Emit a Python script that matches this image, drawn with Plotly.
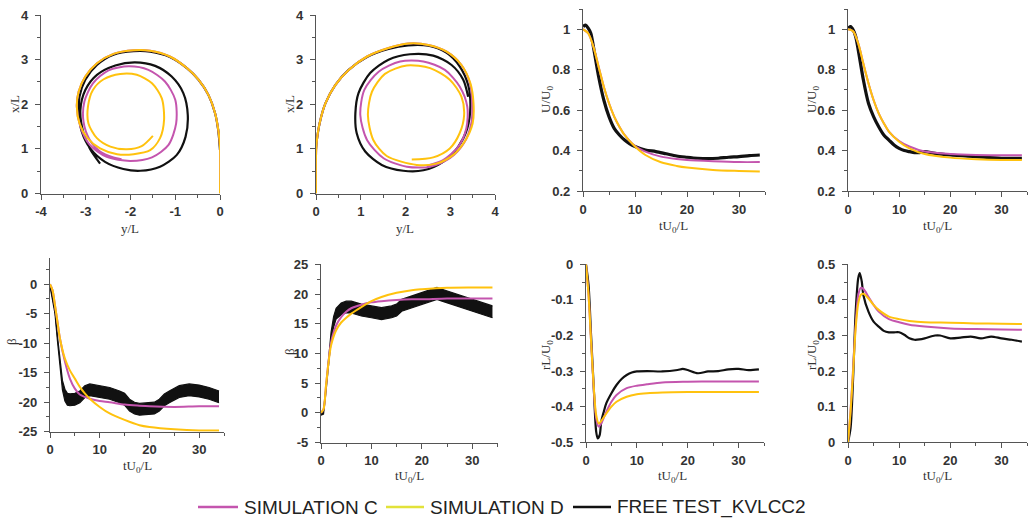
import plotly.graph_objects as go

# ---------------- colours ----------------
C_MAG = "#C455AE"
C_YEL = "#FFC20E"
C_BLK = "#111111"
C_LEG_YEL = "#E2E23A"

# ---------------- trajectory panel 1 (y/L, x/L) ----------------
p1_simD_y = [0, 0, -0.037, -0.11, -0.26, -0.48, -0.74, -1.12, -1.56, -1.93, -2.38, -2.75, -3.01, -3.16, -3.20, -3.14, -2.96, -2.68, -2.30, -1.93, -1.56, -1.34, -1.25, -1.30, -1.52, -1.86, -2.23, -2.60, -2.84, -2.95, -2.94, -2.75, -2.45, -2.08, -1.75, -1.50]
p1_simD_x = [0, 1.05, 1.42, 1.80, 2.21, 2.55, 2.81, 3.07, 3.20, 3.21, 3.13, 2.92, 2.62, 2.28, 1.95, 1.57, 1.24, 1.01, 0.88, 0.88, 0.97, 1.24, 1.65, 2.13, 2.47, 2.66, 2.68, 2.56, 2.32, 1.95, 1.57, 1.24, 1.05, 0.99, 1.06, 1.29]
p1_simC_y = [0, 0, -0.037, -0.11, -0.26, -0.48, -0.74, -1.12, -1.56, -1.93, -2.38, -2.75, -3.01, -3.16, -3.20, -3.12, -2.91, -2.53, -2.01, -1.52, -1.15, -0.98, -1.00, -1.23, -1.60, -2.04, -2.49, -2.84, -3.03, -3.05, -2.91, -2.68, -2.38, -2.20]
p1_simC_x = [0, 1.05, 1.42, 1.80, 2.21, 2.55, 2.81, 3.07, 3.20, 3.21, 3.13, 2.92, 2.62, 2.28, 1.95, 1.50, 1.09, 0.82, 0.73, 0.81, 1.09, 1.57, 2.10, 2.51, 2.77, 2.85, 2.76, 2.47, 2.06, 1.61, 1.20, 0.94, 0.81, 0.77]
p1_test_y = [0, -0.04, -0.11, -0.26, -0.48, -0.74, -1.12, -1.56, -1.93, -2.38, -2.75, -3.01, -3.14, -3.15, -3.09, -2.90, -2.57, -2.16, -1.78, -1.34, -0.97, -0.77, -0.72, -0.82, -1.08, -1.45, -1.90, -2.34, -2.75, -3.01, -3.12, -3.06, -2.91, -2.68]
p1_test_x = [0.97, 1.42, 1.80, 2.21, 2.55, 2.81, 3.06, 3.18, 3.19, 3.11, 2.88, 2.55, 2.17, 1.80, 1.39, 1.01, 0.71, 0.55, 0.51, 0.60, 0.86, 1.27, 1.76, 2.25, 2.62, 2.86, 2.94, 2.87, 2.66, 2.32, 1.87, 1.39, 1.01, 0.67]

# ---------------- trajectory panel 2 ----------------
p2_simD_y = [0, 0, 0.02, 0.08, 0.21, 0.43, 0.73, 1.14, 1.62, 2.06, 2.51, 2.92, 3.25, 3.45, 3.52, 3.50, 3.32, 3.06, 2.69, 2.25, 1.58, 1.28, 1.16, 1.25, 1.54, 2.03, 2.55, 2.99, 3.25, 3.31, 3.21, 2.99, 2.62, 2.14]
p2_simD_x = [0, 0.82, 1.20, 1.57, 2.02, 2.43, 2.77, 3.07, 3.26, 3.36, 3.33, 3.18, 2.88, 2.47, 2.02, 1.57, 1.16, 0.86, 0.67, 0.64, 0.84, 1.20, 1.76, 2.28, 2.68, 2.87, 2.81, 2.55, 2.17, 1.76, 1.35, 1.01, 0.81, 0.76]
p2_simC_y = [0, 0, 0.02, 0.08, 0.21, 0.43, 0.73, 1.14, 1.62, 2.06, 2.51, 2.92, 3.25, 3.44, 3.49, 3.47, 3.30, 2.99, 2.55, 2.03, 1.51, 1.14, 0.99, 1.08, 1.40, 1.88, 2.40, 2.88, 3.21, 3.38, 3.36, 3.18, 2.84, 2.47]
p2_simC_x = [0, 0.82, 1.20, 1.57, 2.02, 2.43, 2.77, 3.07, 3.26, 3.36, 3.33, 3.18, 2.88, 2.47, 2.02, 1.57, 1.12, 0.79, 0.60, 0.60, 0.79, 1.20, 1.76, 2.32, 2.73, 2.96, 2.96, 2.77, 2.40, 1.95, 1.46, 1.05, 0.75, 0.62]
p2_test_y = [0, 0.02, 0.08, 0.21, 0.43, 0.73, 1.14, 1.62, 2.06, 2.51, 2.92, 3.21, 3.40, 3.45, 3.38, 3.18, 2.84, 2.40, 1.95, 1.47, 1.10, 0.91, 0.88, 0.95, 1.21, 1.62, 2.10, 2.62, 3.03, 3.29, 3.40]
p2_test_x = [1.0, 1.20, 1.57, 2.02, 2.43, 2.77, 3.06, 3.24, 3.32, 3.31, 3.15, 2.85, 2.43, 1.95, 1.46, 1.05, 0.71, 0.52, 0.51, 0.64, 0.94, 1.35, 1.80, 2.25, 2.70, 3.00, 3.12, 3.09, 2.88, 2.55, 2.17]

# ---------------- U/U0 panel 3 ----------------
p3_t_sim = [0, 1, 2, 3, 4, 5, 6, 7, 8, 10, 12, 15, 18, 20, 25, 30, 34]
p3_simD = [1.0, 0.98, 0.914, 0.815, 0.716, 0.634, 0.568, 0.518, 0.477, 0.42, 0.378, 0.342, 0.324, 0.316, 0.304, 0.299, 0.296]
p3_simC = [1.0, 0.98, 0.914, 0.815, 0.716, 0.634, 0.568, 0.518, 0.477, 0.422, 0.395, 0.37, 0.358, 0.353, 0.347, 0.343, 0.343]
p3_t_test = [0, 0.5, 1, 1.5, 2, 3, 4, 5, 6, 7, 8, 9, 10, 12, 14, 16, 18, 20, 22, 24, 26, 28, 30, 32, 34]
p3_test = [1.013, 1.02, 1.005, 0.98, 0.914, 0.766, 0.65, 0.568, 0.51, 0.477, 0.452, 0.433, 0.42, 0.403, 0.395, 0.384, 0.373, 0.367, 0.362, 0.36, 0.362, 0.367, 0.37, 0.375, 0.378]

# ---------------- U/U0 panel 4 ----------------
p4_t_sim = [0, 1, 2, 3, 4, 5, 6, 7, 8, 10, 12, 15, 20, 25, 30, 34]
p4_simD = [1.0, 0.99, 0.93, 0.83, 0.733, 0.65, 0.584, 0.535, 0.494, 0.444, 0.411, 0.383, 0.365, 0.357, 0.353, 0.353]
p4_simC = [1.0, 0.99, 0.93, 0.83, 0.733, 0.65, 0.584, 0.535, 0.494, 0.447, 0.42, 0.395, 0.383, 0.378, 0.377, 0.377]
p4_t_test = [0, 0.5, 1, 1.5, 2, 3, 4, 5, 6, 7, 8, 9, 10, 11, 12, 13, 14, 15, 17, 20, 25, 30, 34]
p4_test = [1.005, 1.013, 0.997, 0.964, 0.898, 0.75, 0.634, 0.568, 0.518, 0.477, 0.452, 0.428, 0.411, 0.40, 0.395, 0.39, 0.39, 0.395, 0.386, 0.378, 0.37, 0.362, 0.362]

# ---------------- beta panel 5 ----------------
p5_t_sim = [0, 0.5, 1, 1.5, 2, 3, 4, 5, 6, 7, 8, 10, 12, 15, 18, 20, 25, 30, 34]
p5_simD = [0, -1.0, -3.55, -6.4, -9.2, -12.6, -14.6, -16.0, -17.4, -18.5, -19.4, -20.8, -21.9, -23.0, -23.9, -24.2, -24.6, -24.8, -24.8]
p5_simC = [0, -1.0, -3.6, -6.4, -9.2, -13.1, -16.0, -17.7, -18.7, -19.1, -19.4, -19.8, -20.0, -20.4, -20.6, -20.7, -20.8, -20.7, -20.7]
p5_t_test = [0, 1, 1.5, 2, 2.5, 3, 3.5, 4, 5, 6, 7, 8, 10, 12, 14, 15, 16, 17, 18, 20, 21, 22, 23, 24, 26, 28, 30, 32, 34]
p5_test_hi = [0, -4.4, -8.8, -13.1, -16.3, -17.8, -18.5, -18.6, -18.5, -18.1, -17.2, -16.9, -17.2, -17.5, -18.1, -18.5, -19.5, -20.0, -20.2, -20.0, -20.0, -19.5, -18.6, -18.1, -17.2, -16.9, -17.1, -17.5, -18.1]
p5_test_lo = [-0.3, -5.0, -9.6, -14.3, -17.9, -19.8, -20.5, -20.6, -20.5, -20.1, -19.2, -18.9, -19.2, -19.5, -20.1, -20.5, -21.5, -22.0, -22.2, -22.0, -22.0, -21.5, -20.6, -20.1, -19.2, -18.9, -19.1, -19.5, -20.1]

# ---------------- beta panel 6 ----------------
p6_t_sim = [0, 0.5, 1, 1.5, 2, 3, 4, 5, 6, 8, 10, 12, 15, 18, 20, 25, 30, 34]
p6_simD = [0, 0.6, 4.6, 8.5, 11.35, 13.9, 15.2, 16.0, 16.7, 17.8, 18.8, 19.5, 20.2, 20.65, 20.8, 21.05, 21.1, 21.1]
p6_simC = [0, 0.6, 4.6, 8.7, 11.9, 14.7, 16.1, 17.0, 17.6, 18.2, 18.6, 18.8, 19.0, 19.1, 19.1, 19.25, 19.25, 19.25]
p6_t_test = [0, 0.5, 1, 1.5, 2, 2.5, 3, 4, 5, 6, 7, 8, 10, 12, 14, 15, 16, 18, 20, 22, 23, 24, 26, 28, 30, 32, 34]
p6_test_hi = [0, 0.3, 4.4, 9.0, 13.6, 16.2, 17.6, 18.5, 18.8, 18.8, 18.5, 18.3, 18.0, 17.7, 18.0, 18.3, 19.1, 19.7, 20.25, 20.9, 21.1, 20.8, 20.25, 19.7, 19.1, 18.5, 18.0]
p6_test_lo = [-0.4, -0.2, 3.6, 8.0, 12.4, 14.4, 15.8, 16.5, 16.8, 16.8, 16.5, 16.3, 16.0, 15.7, 16.0, 16.3, 17.1, 17.7, 18.25, 18.9, 19.1, 18.8, 18.25, 17.7, 17.1, 16.5, 16.0]

# ---------------- rL/U0 panel 7 ----------------
p7_t_sim = [0, 0.5, 1, 1.5, 2, 2.5, 3, 4, 5, 6, 8, 10, 12, 15, 20, 25, 34]
p7_simD = [0, -0.086, -0.217, -0.339, -0.423, -0.447, -0.44, -0.419, -0.40, -0.386, -0.372, -0.365, -0.362, -0.36, -0.359, -0.359, -0.359]
p7_simC = [0, -0.086, -0.217, -0.345, -0.433, -0.456, -0.447, -0.414, -0.386, -0.367, -0.348, -0.341, -0.337, -0.332, -0.33, -0.329, -0.329]
p7_t_test = [0, 0.5, 1, 1.5, 2, 2.3, 2.7, 3, 3.5, 4, 5, 6, 7, 8, 9, 10, 12, 15, 18, 19, 20, 22, 24, 26, 28, 30, 32, 34]
p7_test = [0, -0.058, -0.2, -0.339, -0.47, -0.489, -0.479, -0.442, -0.414, -0.39, -0.362, -0.339, -0.322, -0.311, -0.304, -0.301, -0.30, -0.301, -0.297, -0.294, -0.297, -0.306, -0.301, -0.30, -0.295, -0.294, -0.297, -0.295]

# ---------------- rL/U0 panel 8 ----------------
p8_t_sim = [0, 0.5, 1, 1.5, 2, 2.5, 3, 4, 5, 6, 8, 10, 12, 15, 20, 25, 30, 34]
p8_simD = [0, 0.086, 0.198, 0.32, 0.39, 0.414, 0.417, 0.404, 0.386, 0.372, 0.353, 0.346, 0.341, 0.337, 0.336, 0.334, 0.333, 0.332]
p8_simC = [0, 0.09, 0.208, 0.33, 0.414, 0.434, 0.431, 0.409, 0.386, 0.367, 0.346, 0.337, 0.33, 0.325, 0.32, 0.318, 0.317, 0.316]
p8_t_test = [0, 0.5, 1, 1.5, 2, 2.3, 2.7, 3, 4, 5, 6, 7, 8, 9, 10, 11, 12, 13, 14, 15, 17, 18, 20, 22, 24, 26, 28, 30, 32, 34]
p8_test = [0.0, 0.04, 0.18, 0.367, 0.461, 0.475, 0.451, 0.414, 0.367, 0.339, 0.325, 0.313, 0.309, 0.309, 0.309, 0.302, 0.292, 0.288, 0.289, 0.292, 0.30, 0.30, 0.292, 0.294, 0.297, 0.292, 0.297, 0.292, 0.288, 0.283]

legend_names = ["SIMULATION C", "SIMULATION D", "FREE TEST_KVLCC2"]

# ---------------- tick labels ----------------
ticks_traj_neg = [-4, -3, -2, -1, 0]
ticks_traj_pos = [0, 1, 2, 3, 4]
ticks_time = [0, 10, 20, 30]
ticks_u = [0.2, 0.4, 0.6, 0.8, 1]
ticks_beta5 = [-25, -20, -15, -10, -5, 0]
ticks_beta6 = [-5, 0, 5, 10, 15, 20, 25]
ticks_r7 = [-0.5, -0.4, -0.3, -0.2, -0.1, 0]
ticks_r8 = [0, 0.1, 0.2, 0.3, 0.4, 0.5]

def lab(v):
    return "%g" % v

W, H = 1028, 518

def fx(px):
    return px / W

def fy(py):
    return 1 - py / H

# panel geometry: (x0, x1, ytop, ybottom) in pixels
geo = [
    (41, 220, 15, 193.5),
    (316, 495, 15, 193.5),
    (583, 765, 9, 191),
    (848, 1027, 9, 191),
    (50, 224, 257.7, 431.7),
    (321, 497.5, 264.3, 442.5),
    (586, 764, 264.3, 442.3),
    (848, 1027, 264.3, 442.3),
]

fig = go.Figure()

def add_line(i, x, y, color, width=2):
    ax = "" if i == 1 else str(i)
    fig.add_trace(go.Scatter(x=x, y=y, mode="lines", line=dict(color=color, width=width, shape="spline", smoothing=0.8),
                             xaxis="x" + ax, yaxis="y" + ax, showlegend=False, hoverinfo="skip"))

def add_band(i, x, lo, hi):
    ax = "" if i == 1 else str(i)
    fig.add_trace(go.Scatter(x=x, y=lo, mode="lines", line=dict(color=C_BLK, width=1.2),
                             xaxis="x" + ax, yaxis="y" + ax, showlegend=False, hoverinfo="skip"))
    fig.add_trace(go.Scatter(x=x, y=hi, mode="lines", line=dict(color=C_BLK, width=1.2), fill="tonexty",
                             fillcolor=C_BLK, xaxis="x" + ax, yaxis="y" + ax, showlegend=False, hoverinfo="skip"))

add_line(1, p1_test_y, p1_test_x, C_BLK, 2.2)
add_line(1, p1_simC_y, p1_simC_x, C_MAG, 2)
add_line(1, p1_simD_y, p1_simD_x, C_YEL, 2)
add_line(2, p2_test_y, p2_test_x, C_BLK, 2.2)
add_line(2, p2_simC_y, p2_simC_x, C_MAG, 2)
add_line(2, p2_simD_y, p2_simD_x, C_YEL, 2)
add_line(3, p3_t_test, p3_test, C_BLK, 3.2)
add_line(3, p3_t_sim, p3_simC, C_MAG, 2)
add_line(3, p3_t_sim, p3_simD, C_YEL, 2)
add_line(4, p4_t_test, p4_test, C_BLK, 3.2)
add_line(4, p4_t_sim, p4_simC, C_MAG, 2)
add_line(4, p4_t_sim, p4_simD, C_YEL, 2)
add_band(5, p5_t_test, p5_test_lo, p5_test_hi)
add_line(5, p5_t_sim, p5_simC, C_MAG, 2)
add_line(5, p5_t_sim, p5_simD, C_YEL, 2)
add_band(6, p6_t_test, p6_test_lo, p6_test_hi)
add_line(6, p6_t_sim, p6_simC, C_MAG, 2)
add_line(6, p6_t_sim, p6_simD, C_YEL, 2)
add_line(7, p7_t_test, p7_test, C_BLK, 2.2)
add_line(7, p7_t_sim, p7_simC, C_MAG, 2)
add_line(7, p7_t_sim, p7_simD, C_YEL, 2)
add_line(8, p8_t_test, p8_test, C_BLK, 2.2)
add_line(8, p8_t_sim, p8_simC, C_MAG, 2)
add_line(8, p8_t_sim, p8_simD, C_YEL, 2)

TICKFONT = dict(family="Liberation Sans, Arial", size=13, color="#333333", weight="bold")
TITLEFONT = dict(family="Liberation Serif, Times New Roman", size=13, color="#333333")
LEGFONT = dict(family="Liberation Sans, Arial", size=19, color="#222222")

def axis(domain, rng, tickvals, mdtick, anchor, standoff):
    return dict(domain=domain, range=rng, tickmode="array", tickvals=tickvals, ticktext=[lab(v) for v in tickvals],
                showgrid=False, zeroline=False, showline=True, linecolor="#555555", linewidth=1.2,
                ticks="outside", ticklen=5, tickwidth=1, tickcolor="#555555", ticklabelstandoff=standoff,
                minor=dict(dtick=mdtick, tick0=0, ticks="outside", ticklen=3, tickcolor="#555555", showgrid=False),
                tickfont=TICKFONT, anchor=anchor, fixedrange=True, automargin=False)

xinfo = [
    ([-4, 0], ticks_traj_neg, 0.5),
    ([0, 4], ticks_traj_pos, 0.5),
    ([0, 35], ticks_time, 5),
    ([0, 35], ticks_time, 5),
    ([0, 35], ticks_time, 5),
    ([0, 35], ticks_time, 5),
    ([0, 35], ticks_time, 5),
    ([0, 35], ticks_time, 5),
]
yinfo = [
    ([0, 4], ticks_traj_pos, 0.5),
    ([0, 4], ticks_traj_pos, 0.5),
    ([0.2, 1.1], ticks_u, 0.1),
    ([0.2, 1.1], ticks_u, 0.1),
    ([-25, 4.5], ticks_beta5, 2.5),
    ([-5, 25], ticks_beta6, 2.5),
    ([-0.5, 0], ticks_r7, 0.05),
    ([0, 0.5], ticks_r8, 0.05),
]

# axis titles: (text, x px, y px, rotated)
titles = [
    ("x/L", 14, 104, True), ("y/L", 130, 228, False),
    ("x/L", 289, 104, True), ("y/L", 405, 228, False),
    ("U/U<sub>0</sub>", 546, 100, True), ("tU<sub>0</sub>/L", 673, 226, False),
    ("U/U<sub>0</sub>", 812, 100, True), ("tU<sub>0</sub>/L", 937, 226, False),
    ("β", 11, 342, True), ("tU<sub>0</sub>/L", 137, 466, False),
    ("β", 289, 352, True), ("tU<sub>0</sub>/L", 409, 476, False),
    ("rL/U<sub>0</sub>", 546, 355, True), ("tU<sub>0</sub>/L", 672, 476, False),
    ("rL/U<sub>0</sub>", 812, 355, True), ("tU<sub>0</sub>/L", 937, 476, False),
]
annotations = []
for text, px, py, rot in titles:
    annotations.append(dict(text=text, x=fx(px), y=fy(py), xref="paper", yref="paper", showarrow=False,
                            xanchor="center", yanchor="middle", textangle=-90 if rot else 0, font=TITLEFONT))

# legend drawn as line samples + text (line x0, x1, text x) in pixels
leg_y = 507
leg_pos = [(198, 238, 242), (386, 424, 428), (573, 611, 615)]
shapes = []
for name, col, (lx0, lx1, tx) in zip(legend_names, [C_MAG, C_LEG_YEL, C_BLK], leg_pos):
    shapes.append(dict(type="line", xref="paper", yref="paper", x0=fx(lx0), x1=fx(lx1), y0=fy(leg_y), y1=fy(leg_y),
                       line=dict(color=col, width=2.5)))
    annotations.append(dict(text=name, x=fx(tx), y=fy(leg_y), xref="paper", yref="paper", showarrow=False,
                            xanchor="left", yanchor="middle", font=LEGFONT))

layout = dict(
    width=W, height=H,
    margin=dict(l=0, r=0, t=0, b=0),
    paper_bgcolor="white", plot_bgcolor="white",
    showlegend=False,
    annotations=annotations,
    shapes=shapes,
)
for i in range(8):
    x0, x1, yt, yb = geo[i]
    s = "" if i == 0 else str(i + 1)
    xr, xt, xm = xinfo[i]
    yr, ytv, ym = yinfo[i]
    layout["xaxis" + s] = axis([fx(x0), fx(x1)], xr, xt, xm, "y" + s, 1)
    layout["yaxis" + s] = axis([fy(yb), fy(yt)], yr, ytv, ym, "x" + s, 4)

fig.update_layout(**layout)
fig.write_html("out.html", config={"displayModeBar": False},
               post_script="document.body.style.margin='0px';document.body.style.padding='0px';document.body.style.overflow='hidden';")
